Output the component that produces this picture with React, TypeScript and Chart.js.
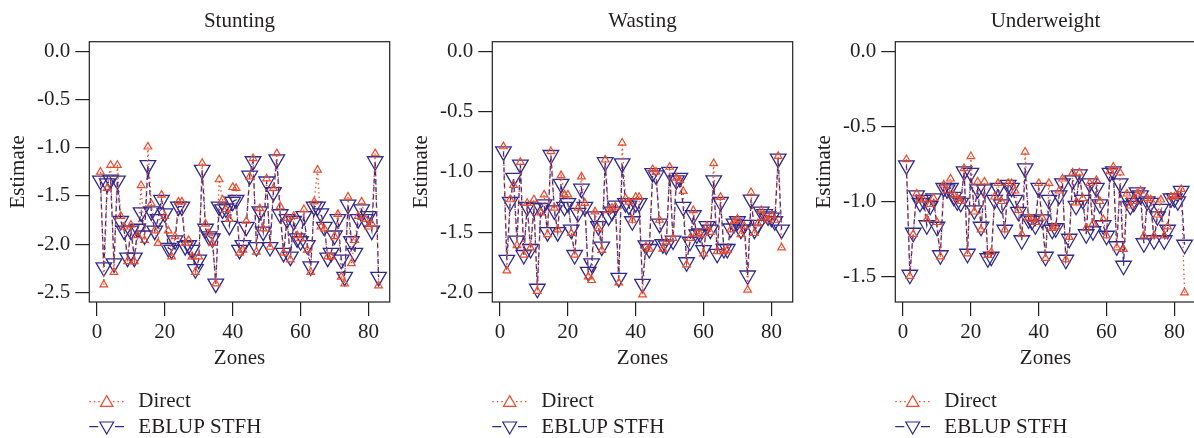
import React, { useEffect, useRef } from 'react';
import { Chart, registerables } from 'chart.js';

Chart.register(...registerables);

const zones = [
  1, 2, 3, 4, 5, 6, 7, 8, 9, 10, 11, 12, 13, 14, 15, 16, 17, 18, 19, 20,
  21, 22, 23, 24, 25, 26, 27, 28, 29, 30, 31, 32, 33, 34, 35, 36, 37, 38, 39, 40,
  41, 42, 43, 44, 45, 46, 47, 48, 49, 50, 51, 52, 53, 54, 55, 56, 57, 58, 59, 60,
  61, 62, 63, 64, 65, 66, 67, 68, 69, 70, 71, 72, 73, 74, 75, 76, 77, 78, 79, 80,
  81, 82, 83,
];

const xTickValues = [0, 20, 40, 60, 80];
const stuntingYTicks = [0, -0.5, -1, -1.5, -2, -2.5];
const wastingYTicks = [0, -0.5, -1, -1.5, -2];
const underweightYTicks = [0, -0.5, -1, -1.5];

const stuntingDirect = [
  -1.25, -2.42, -1.42, -1.18, -2.29, -1.18, -1.71, -1.82, -2.18, -1.80,
  -2.18, -1.91, -1.39, -1.96, -0.99, -1.58, -1.86, -1.99, -1.49, -1.71,
  -1.86, -2.13, -1.92, -1.56, -1.56, -1.99, -1.96, -2.13, -2.29, -2.13,
  -1.16, -1.79, -1.89, -1.99, -2.41, -1.33, -1.54, -1.64, -1.74, -1.41,
  -1.42, -2.09, -2.06, -1.76, -1.30, -1.11, -2.08, -1.63, -1.84, -1.32,
  -2.03, -1.42, -1.06, -1.61, -2.09, -1.73, -2.16, -1.71, -1.91, -1.94,
  -1.64, -2.06, -2.29, -1.56, -1.23, -1.82, -1.84, -2.13, -2.13, -1.92,
  -1.69, -2.34, -2.41, -1.51, -2.20, -1.96, -1.71, -1.56, -1.74, -1.82,
  -1.79, -1.06, -2.43,
];
const stuntingEblup = [
  -1.34, -2.24, -1.37, -1.33, -2.20, -1.34, -1.76, -1.86, -2.14, -1.86,
  -2.14, -1.84, -1.67, -1.91, -1.18, -1.66, -1.86, -1.74, -1.54, -1.68,
  -2.04, -2.06, -1.96, -1.61, -1.61, -2.02, -2.01, -2.06, -2.26, -2.16,
  -1.23, -1.84, -1.92, -1.94, -2.41, -1.61, -1.64, -1.63, -1.81, -1.56,
  -1.54, -2.06, -2.01, -1.82, -1.29, -1.14, -2.03, -1.66, -1.87, -1.35,
  -2.03, -1.46, -1.12, -1.69, -2.09, -1.74, -2.13, -1.76, -1.94, -1.97,
  -1.71, -2.01, -2.23, -1.61, -1.61, -1.68, -1.82, -2.14, -2.09, -1.91,
  -1.74, -2.16, -2.34, -1.59, -1.97, -2.09, -1.74, -1.64, -1.74, -1.71,
  -1.86, -1.14, -2.34,
];

const wastingDirect = [
  -0.79, -1.82, -1.23, -1.11, -1.61, -0.92, -1.69, -1.26, -1.63, -1.23,
  -1.99, -1.34, -1.19, -1.52, -0.83, -1.30, -1.48, -1.03, -1.19, -1.19,
  -1.51, -1.69, -1.30, -1.04, -1.26, -1.87, -1.90, -1.33, -1.47, -1.65,
  -0.90, -1.32, -1.30, -1.29, -1.92, -0.76, -1.22, -1.25, -1.40, -1.21,
  -1.21, -2.02, -1.62, -1.64, -0.98, -1.00, -1.40, -1.64, -1.58, -0.96,
  -1.55, -1.05, -1.07, -1.16, -1.77, -1.55, -1.32, -1.51, -1.52, -1.68,
  -1.45, -1.50, -0.93, -1.66, -1.21, -1.66, -1.65, -1.48, -1.41, -1.39,
  -1.52, -1.45, -1.98, -1.17, -1.51, -1.43, -1.32, -1.38, -1.40, -1.36,
  -1.40, -0.87, -1.63,
];
const wastingEblup = [
  -0.83, -1.73, -1.25, -1.05, -1.57, -0.94, -1.69, -1.29, -1.64, -1.30,
  -1.97, -1.30, -1.27, -1.50, -0.86, -1.32, -1.50, -1.10, -1.29, -1.26,
  -1.48, -1.69, -1.34, -1.14, -1.29, -1.83, -1.76, -1.37, -1.45, -1.62,
  -0.92, -1.37, -1.33, -1.28, -1.88, -0.93, -1.26, -1.28, -1.41, -1.26,
  -1.26, -1.93, -1.61, -1.64, -1.01, -1.03, -1.43, -1.60, -1.61, -1.00,
  -1.57, -1.07, -1.05, -1.29, -1.75, -1.58, -1.36, -1.52, -1.51, -1.65,
  -1.45, -1.48, -1.07, -1.68, -1.25, -1.64, -1.64, -1.47, -1.43, -1.41,
  -1.48, -1.44, -1.86, -1.23, -1.48, -1.44, -1.33, -1.35, -1.37, -1.38,
  -1.41, -0.89, -1.48,
];

const underweightDirect = [
  -0.72, -1.50, -1.22, -0.95, -0.99, -0.99, -1.12, -1.02, -0.98, -1.14,
  -1.37, -0.89, -0.93, -0.85, -0.96, -0.98, -1.00, -0.78, -1.35, -0.70,
  -1.07, -0.87, -1.19, -0.87, -1.36, -1.34, -0.97, -0.88, -1.00, -1.19,
  -0.88, -0.88, -0.93, -1.06, -1.22, -0.67, -1.11, -1.12, -1.14, -0.88,
  -1.11, -1.38, -0.88, -1.18, -1.17, -0.93, -0.85, -1.39, -1.24, -0.81,
  -1.01, -0.81, -0.98, -1.18, -0.88, -1.15, -0.86, -1.00, -1.12, -1.23,
  -0.80, -0.77, -1.31, -0.81, -1.32, -0.95, -1.03, -1.00, -0.95, -0.93,
  -1.23, -0.98, -0.99, -1.23, -1.09, -0.99, -1.23, -1.17, -0.97, -0.97,
  -0.96, -0.92, -1.61,
];
const underweightEblup = [
  -0.76, -1.49, -1.21, -0.96, -1.01, -0.99, -1.16, -1.03, -0.98, -1.17,
  -1.36, -0.91, -0.92, -0.91, -0.97, -1.00, -1.01, -0.80, -1.35, -0.81,
  -1.06, -0.92, -1.17, -0.92, -1.38, -1.37, -0.99, -0.91, -1.02, -1.19,
  -0.89, -0.91, -0.99, -1.07, -1.26, -0.78, -1.12, -1.13, -1.16, -0.91,
  -1.12, -1.37, -0.99, -1.19, -1.18, -0.96, -0.88, -1.39, -1.25, -0.86,
  -1.03, -0.82, -0.99, -1.22, -0.88, -1.20, -0.91, -1.02, -1.16, -1.23,
  -0.81, -0.80, -1.30, -0.88, -1.43, -0.97, -1.03, -1.01, -0.94, -0.96,
  -1.28, -1.00, -1.01, -1.26, -1.10, -1.05, -1.26, -1.19, -0.98, -0.98,
  -1.00, -0.93, -1.29,
];

const seriesLabels = ['Direct', 'EBLUP STFH'];

const RED = '#ee4b2b';
const BLUE = '#2f2a8e';
const INK = '#231f20';
const FONT = "'Liberation Serif', 'Times New Roman', serif";
const FONT_SIZE = 21;

const PANEL_W = 403;
const CANVAS_H = 438;
const PLOT_LEFT = 89.3;
const PLOT_RIGHT = 389.7;
const PLOT_BOTTOM = 302;

const panels = [
  { title: 'Stunting', direct: stuntingDirect, eblup: stuntingEblup, yTicks: stuntingYTicks, yMin: -2.6, yMax: 0.1 },
  { title: 'Wasting', direct: wastingDirect, eblup: wastingEblup, yTicks: wastingYTicks, yMin: -2.08, yMax: 0.08 },
  { title: 'Underweight', direct: underweightDirect, eblup: underweightEblup, yTicks: underweightYTicks, yMin: -1.672, yMax: 0.065 },
];

function triangle(ctx: CanvasRenderingContext2D, x: number, y: number, r: number, down: boolean) {
  const s = down ? -1 : 1;
  ctx.beginPath();
  ctx.moveTo(x, y - s * r);
  ctx.lineTo(x + 0.866 * r, y + s * 0.5 * r);
  ctx.lineTo(x - 0.866 * r, y + s * 0.5 * r);
  ctx.closePath();
  ctx.stroke();
}

const boxAndLegend = {
  id: 'boxAndLegend',
  afterDraw(chart: any) {
    const ctx: CanvasRenderingContext2D = chart.ctx;
    const { left, top, right, bottom } = chart.chartArea;
    ctx.save();
    ctx.setLineDash([]);
    ctx.strokeStyle = INK;
    ctx.lineWidth = 1.2;
    ctx.strokeRect(left, top, right - left, bottom - top);

    const x0 = 89.3;
    const x1 = 124;
    const cx = 106.7;
    ctx.strokeStyle = RED;
    ctx.lineWidth = 1.2;
    ctx.setLineDash([1.5, 3]);
    ctx.beginPath();
    ctx.moveTo(x0, 401.7);
    ctx.lineTo(101, 401.7);
    ctx.moveTo(113, 401.7);
    ctx.lineTo(x1, 401.7);
    ctx.stroke();
    ctx.setLineDash([]);
    triangle(ctx, cx, 402.8, 7.2, false);
    ctx.strokeStyle = BLUE;
    ctx.beginPath();
    ctx.moveTo(x0, 426.7);
    ctx.lineTo(98.3, 426.7);
    ctx.moveTo(115, 426.7);
    ctx.lineTo(x1, 426.7);
    ctx.stroke();
    triangle(ctx, cx, 426, 8, true);

    ctx.fillStyle = INK;
    ctx.font = `${FONT_SIZE}px ${FONT}`;
    ctx.textAlign = 'left';
    ctx.textBaseline = 'alphabetic';
    ctx.fillText(seriesLabels[0], 138.3, 406.5);
    ctx.fillText(seriesLabels[1], 138.3, 433);
    ctx.restore();
  },
};

function Panel({ index }: { index: number }) {
  const ref = useRef<HTMLCanvasElement | null>(null);
  useEffect(() => {
    const p = panels[index];
    const font = { family: FONT, size: FONT_SIZE, weight: 'normal' as const };
    const chart = new Chart(ref.current as HTMLCanvasElement, {
      type: 'line',
      data: {
        datasets: [
          {
            label: seriesLabels[0],
            data: zones.map((z, i) => ({ x: z, y: p.direct[i] })),
            borderColor: RED,
            borderWidth: 1.2,
            borderDash: [1.5, 3],
            pointStyle: 'triangle',
            pointRadius: 4.4,
            pointBorderWidth: 1.2,
            pointBorderColor: RED,
            pointBackgroundColor: 'rgba(0,0,0,0)',
            tension: 0,
            fill: false,
          },
          {
            label: seriesLabels[1],
            data: zones.map((z, i) => ({ x: z, y: p.eblup[i] })),
            borderColor: BLUE,
            borderWidth: 1.3,
            borderDash: [5, 3],
            pointStyle: 'triangle',
            pointRotation: 180,
            pointRadius: 9,
            pointBorderWidth: 1.3,
            pointBorderColor: BLUE,
            pointBackgroundColor: 'rgba(0,0,0,0)',
            tension: 0,
            fill: false,
          },
        ],
      },
      options: {
        animation: false,
        responsive: false,
        devicePixelRatio: 1,
        events: [],
        layout: { padding: { top: 0, left: 0, bottom: 0, right: PANEL_W - PLOT_RIGHT } },
        plugins: {
          legend: { display: false },
          tooltip: { enabled: false },
          title: {
            display: true,
            text: p.title,
            fullSize: false,
            color: INK,
            font,
            padding: { top: 8.4, bottom: 8.1 },
          },
        },
        scales: {
          x: {
            type: 'linear',
            min: -2.28,
            max: 86.28,
            afterBuildTicks: (s: any) => {
              s.ticks = xTickValues.map((v) => ({ value: v }));
            },
            afterFit: (s: any) => {
              s.height = CANVAS_H - PLOT_BOTTOM;
            },
            grid: { display: true, drawOnChartArea: false, drawTicks: true, tickLength: 14, color: INK, lineWidth: 1.2 },
            border: { display: false },
            ticks: {
              color: INK,
              font,
              padding: 4,
              maxRotation: 0,
              autoSkip: false,
              callback: (v: any) => String(v),
            },
            title: { display: true, text: 'Zones', color: INK, font, padding: { top: 0, bottom: 67.4 } },
          },
          y: {
            type: 'linear',
            min: p.yMin,
            max: p.yMax,
            afterBuildTicks: (s: any) => {
              s.ticks = p.yTicks.map((v) => ({ value: v }));
            },
            afterFit: (s: any) => {
              s.width = PLOT_LEFT;
            },
            grid: { display: true, drawOnChartArea: false, drawTicks: true, tickLength: 14, color: INK, lineWidth: 1.2 },
            border: { display: false },
            ticks: {
              color: INK,
              font,
              padding: 5,
              autoSkip: false,
              callback: (v: any) => (Math.abs(v) < 1e-9 ? '0.0' : Number(v).toFixed(1)),
            },
            title: { display: true, text: 'Estimate', color: INK, font, padding: { top: 5.4, bottom: 0 } },
          },
        },
      },
      plugins: [boxAndLegend],
    } as any);
    return () => chart.destroy();
  }, [index]);
  return (
    <canvas
      ref={ref}
      width={PANEL_W}
      height={CANVAS_H}
      style={{ position: 'absolute', left: index * PANEL_W, top: 0, width: PANEL_W, height: CANVAS_H }}
    />
  );
}

export default function App() {
  return (
    <div
      style={{
        position: 'absolute',
        left: 0,
        top: 0,
        width: 1194,
        height: 438,
        overflow: 'hidden',
        background: '#ffffff',
      }}
    >
      {panels.map((_, i) => (
        <Panel key={i} index={i} />
      ))}
    </div>
  );
}
